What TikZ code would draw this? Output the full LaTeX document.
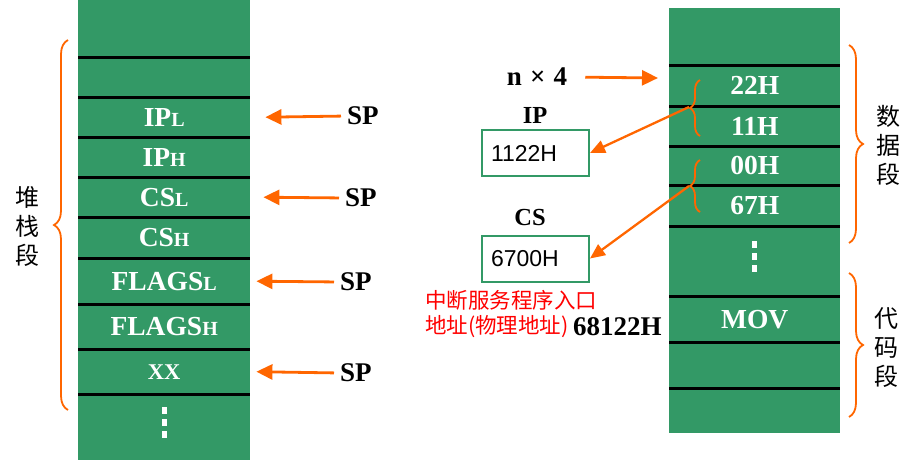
\documentclass[tikz,border=0pt]{standalone}
\usepackage{fontspec}
\setmainfont{Liberation Serif}
\newfontfamily\boxfont{Liberation Sans}
\newfontfamily\cjk{Noto Sans CJK SC}
\usetikzlibrary{arrows.meta, positioning, decorations.pathreplacing, calc}

\definecolor{stackgreen}{RGB}{51,153,102}
\definecolor{ptrorange}{RGB}{255,102,0}

% small capital for low/high byte
\newcommand{\lo}[1]{{\fontsize{20}{20}\selectfont #1}}
% three white dots inside a cell
\newcommand{\celldots}[2]{%
  \fill[white] ($(#1.north)+(-2.5,#2)$) rectangle ++(5,7);
  \fill[white] ($(#1.north)+(-2.5,#2+12)$) rectangle ++(5,7);
  \fill[white] ($(#1.north)+(-2.5,#2+24)$) rectangle ++(5,7);}

\begin{document}
\begin{tikzpicture}[x=1pt, y=-1pt,
    cell/.style={fill=stackgreen, draw=none, minimum width=172pt, inner sep=0pt, anchor=north west, text=white, font=\fontsize{27.5}{27.5}\selectfont\bfseries},
    sep/.style={line width=2.4pt, black},
    ptr/.style={-{Triangle[length=16pt, width=15pt]}, line width=2.8pt, ptrorange},
    link/.style={-{Triangle[length=15pt, width=13pt]}, line width=2.3pt, ptrorange},
    lbl/.style={inner sep=0pt, font=\fontsize{27}{27}\selectfont\bfseries},
    brc/.style={decorate, decoration={brace, amplitude=#1}, ptrorange, line width=1.8pt},
    regbox/.style={draw=stackgreen, line width=2pt, fill=white, text width=89pt, minimum height=46pt, inner xsep=9pt, align=left, font=\boxfont\fontsize{23}{23}\selectfont},
    seg/.style={align=center, inner sep=0pt, font=\cjk\fontsize{24}{29}\selectfont},
    redtxt/.style={inner sep=0pt, text=red, font=\cjk\fontsize{21.5}{21.5}\selectfont},
]
    \useasboundingbox (0,0) rectangle (916,460);

    % stack segment
    \node[cell, minimum height=57pt] (s1) at (78,0) {};
    \node[cell, minimum height=40pt] (s2) at (78,57) {};
    \node[cell, minimum height=40pt] (s3) at (78,97) {IP\lo{L}};
    \node[cell, minimum height=40pt] (s4) at (78,137) {IP\lo{H}};
    \node[cell, minimum height=40pt] (s5) at (78,177) {CS\lo{L}};
    \node[cell, minimum height=41pt] (s6) at (78,217) {CS\lo{H}};
    \node[cell, minimum height=46pt] (s7) at (78,258) {FLAGS\lo{L}};
    \node[cell, minimum height=45pt] (s8) at (78,304) {FLAGS\lo{H}};
    \node[cell, minimum height=45pt, font=\fontsize{22.5}{22.5}\selectfont\bfseries] (s9) at (78,349) {XX};
    \node[cell, minimum height=66pt] (s10) at (78,394) {};
    \celldots{s10}{13}
    \foreach \c in {s1,s2,s3,s4,s5,s6,s7,s8,s9}
        \draw[sep] (\c.south west) -- (\c.south east);

    \draw[brc=14pt] (68,410) -- (68,40);
    \node[seg] (stk) at (28,226) {堆\\栈\\段};

    % stack pointer
    \node[lbl, anchor=west] (sp1) at (347,116) {SP};
    \node[lbl, anchor=west] (sp2) at (345,198) {SP};
    \node[lbl, anchor=west] (sp3) at (340,282) {SP};
    \node[lbl, anchor=west] (sp4) at (340,373) {SP};
    \draw[ptr, shorten <=6pt] (sp1.west) -- ([xshift=15pt]s3.east);
    \draw[ptr, shorten <=6pt] (sp2.west) -- ([xshift=13pt]s5.east);
    \draw[ptr, shorten <=6pt] (sp3.west) -- ([xshift=6pt]s7.east);
    \draw[ptr, shorten <=6pt] (sp4.west) -- ([xshift=6pt]s9.east);

    % interrupt vector table and code
    \node[cell, minimum width=171pt, minimum height=57pt] (r1) at (669,8) {};
    \node[cell, minimum width=171pt, minimum height=41pt] (r2) at (669,65) {22H};
    \node[cell, minimum width=171pt, minimum height=40pt] (r3) at (669,106) {11H};
    \node[cell, minimum width=171pt, minimum height=39pt] (r4) at (669,146) {00H};
    \node[cell, minimum width=171pt, minimum height=41pt] (r5) at (669,185) {67H};
    \node[cell, minimum width=171pt, minimum height=70pt] (r6) at (669,226) {};
    \node[cell, minimum width=171pt, minimum height=46pt] (r7) at (669,296) {MOV};
    \node[cell, minimum width=171pt, minimum height=46pt] (r8) at (669,342) {};
    \node[cell, minimum width=171pt, minimum height=45pt] (r9) at (669,388) {};
    \celldots{r6}{15}
    \foreach \c in {r1,r2,r3,r4,r5,r6,r7,r8}
        \draw[sep] (\c.south west) -- (\c.south east);

    \draw[brc=14pt] (849,45) -- (849,243);
    \node[seg] (dseg) at (888,145) {数\\据\\段};
    \draw[brc=14pt] (849,273) -- (849,417);
    \node[seg] (cseg) at (886,348) {代\\码\\段};

    % vector address
    \node[lbl] (nx4) at (537,77) {n\hspace{0.3em}×\hspace{0.3em}4};
    \coordinate (nptr) at (658,78);
    \draw[ptr, shorten <=18pt] (nx4.east) -- (nptr);

    % IP and CS
    \node[lbl, font=\fontsize{24.5}{24.5}\selectfont\bfseries] (iplbl) at (535,115) {IP};
    \node[regbox] (ipbox) at (535.5,153) {1122H};
    \node[lbl, font=\fontsize{24.5}{24.5}\selectfont\bfseries] (cslbl) at (530,218) {CS};
    \node[regbox] (csbox) at (535.5,258.5) {6700H};

    \draw[brc=10pt] (700,136) -- (700,80);
    \coordinate (ipw) at (689,107);
    \draw[brc=10pt] (700,212) -- (700,160);
    \coordinate (csw) at (689,186);
    \draw[link] (ipw) -- (ipbox.east);
    \draw[link] (csw) -- (csbox.east);

    % physical address
    \node[redtxt, anchor=west] (int1) at (425,300) {中断服务程序入口};
    \node[redtxt, anchor=west] (int2) at (425,327) {地址(物理地址)};
    \node[lbl, right=4pt of int2] (phys) {68122H};
\end{tikzpicture}
\end{document}
